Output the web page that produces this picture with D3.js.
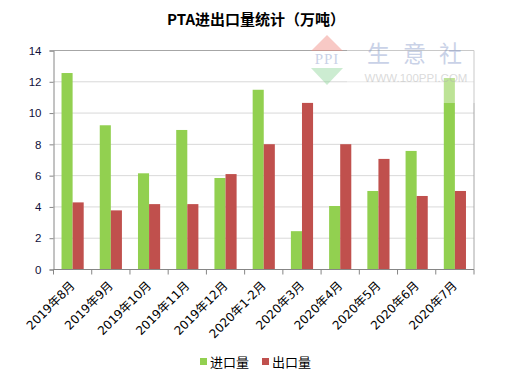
<!DOCTYPE html>
<html>
<head>
<meta charset="utf-8">
<script src="https://cdn.jsdelivr.net/npm/d3@7"></script>
<style>
  body { margin: 0; background: #fff; }
  svg { display: block; font-family: "DejaVu Sans", "Noto Sans CJK SC", sans-serif; }
</style>
</head>
<body>
<script>
const categories = ["2019年8月", "2019年9月", "2019年10月", "2019年11月", "2019年12月",
  "2020年1-2月", "2020年3月", "2020年4月", "2020年5月", "2020年6月", "2020年7月"];
const seriesNames = ["进口量", "出口量"];
const importValues = [12.56, 9.22, 6.15, 8.92, 5.85, 11.49, 2.45, 4.06, 5.02, 7.58, 12.24];
const exportValues = [4.29, 3.78, 4.18, 4.18, 6.1, 8.01, 10.65, 8.01, 7.07, 4.7, 5.02];
const yTicks = [0, 2, 4, 6, 8, 10, 12, 14];

const width = 507;
const height = 381;
const margin = { top: 50.5, right: 33, bottom: 111.5, left: 53.5 };
const colors = ["#92d050", "#c0504d"];

const svg = d3.select("body").append("svg")
  .attr("width", width)
  .attr("height", height);

const plotW = width - margin.left - margin.right;
const plotH = height - margin.top - margin.bottom;

const x = d3.scaleBand()
  .domain(categories)
  .range([0, plotW])
  .paddingInner(0.42)
  .paddingOuter(0.21);

const xSub = d3.scaleBand()
  .domain(seriesNames)
  .range([0, x.bandwidth()]);

const y = d3.scaleLinear()
  .domain([0, 14])
  .range([plotH, 0]);

// title
svg.append("text")
  .attr("x", 256)
  .attr("y", 25)
  .attr("text-anchor", "middle")
  .style("font-family", "'Noto Sans CJK SC', sans-serif")
  .style("font-weight", "bold")
  .style("font-size", "15px")
  .text("PTA进出口量统计（万吨）");

const g = svg.append("g")
  .attr("transform", `translate(${margin.left},${margin.top})`);

// grid lines
g.selectAll(".grid")
  .data(yTicks.filter(d => d > 0))
  .enter().append("line")
  .attr("x1", 0).attr("x2", plotW)
  .attr("y1", d => y(d)).attr("y2", d => y(d))
  .attr("stroke", d => d === 14 ? "#a6a6a6" : "#d9d9d9")
  .attr("stroke-width", 1);

// right border
g.append("line")
  .attr("x1", plotW).attr("x2", plotW)
  .attr("y1", 0).attr("y2", plotH)
  .attr("stroke", "#a6a6a6");

// bars
const data = categories.map((c, i) => ({ cat: c, vals: [importValues[i], exportValues[i]] }));

const groups = g.selectAll(".grp")
  .data(data)
  .enter().append("g")
  .attr("transform", d => `translate(${x(d.cat)},0)`);

groups.selectAll("rect")
  .data(d => d.vals.map((v, j) => ({ name: seriesNames[j], value: v, j: j })))
  .enter().append("rect")
  .attr("x", d => xSub(d.name))
  .attr("width", xSub.bandwidth())
  .attr("y", d => y(d.value))
  .attr("height", d => plotH - y(d.value))
  .attr("fill", d => colors[d.j]);

// y axis
const yAxis = g.append("g")
  .call(d3.axisLeft(y).tickValues(yTicks).tickSize(4).tickPadding(8).tickFormat(d3.format("d")));
yAxis.select(".domain").attr("stroke", "#868686");
yAxis.selectAll(".tick line").attr("stroke", "#868686");
yAxis.selectAll("text")
  .style("font-size", "11.5px")
  .attr("fill", "#10103a");

// x axis
const xTickPos = d3.range(categories.length + 1).map(i => i * plotW / categories.length);
const xAxisG = g.append("g").attr("transform", `translate(0,${plotH})`);
xAxisG.append("line")
  .attr("x1", 0).attr("x2", plotW)
  .attr("stroke", "#868686");
xAxisG.selectAll(".xt")
  .data(xTickPos)
  .enter().append("line")
  .attr("x1", d => d).attr("x2", d => d)
  .attr("y1", 0).attr("y2", 5)
  .attr("stroke", "#868686");
xAxisG.selectAll(".xl")
  .data(categories)
  .enter().append("text")
  .attr("transform", d => `translate(${x(d) + x.bandwidth() / 2},${14}) rotate(-45)`)
  .attr("text-anchor", "end")
  .attr("dy", "0.35em")
  .style("font-size", "12px")
  .attr("fill", "#000")
  .text(d => d);

// watermark
svg.append("rect")
  .attr("x", 347).attr("y", 36)
  .attr("width", 135).attr("height", 67)
  .attr("fill", "#fff")
  .attr("opacity", 0.4);
const wm = svg.append("g").attr("opacity", 0.45);
wm.append("path")
  .attr("d", "M311,51 L327,35 L343,51 Z")
  .attr("fill", "#f08a80");
wm.append("text")
  .attr("x", 327).attr("y", 64)
  .attr("text-anchor", "middle")
  .style("font-family", "'Liberation Serif', serif")
  .style("font-size", "15px")
  .style("letter-spacing", "1px")
  .attr("fill", "#8a9ccc")
  .text("PPI");
wm.append("path")
  .attr("d", "M311,68 L343,68 L327,85 Z")
  .attr("fill", "#8fd69a");
wm.append("text")
  .attr("x", 367).attr("y", 62)
  .style("font-family", "'Noto Sans CJK SC', sans-serif")
  .style("font-size", "23px")
  .style("letter-spacing", "13px")
  .attr("fill", "#8a9ccc")
  .text("生意社");
wm.append("text")
  .attr("x", 416).attr("y", 82)
  .attr("text-anchor", "middle")
  .style("font-family", "'Liberation Sans', sans-serif")
  .style("font-size", "11.5px")
  .attr("fill", "#b0b0b0")
  .text("WWW.100PPI.COM");

// legend
const legend = svg.append("g").attr("transform", "translate(200,358)");
const li = legend.selectAll(".li")
  .data(seriesNames)
  .enter().append("g")
  .attr("transform", (d, i) => `translate(${i * 62},0)`);
li.append("rect")
  .attr("width", 7).attr("height", 7)
  .attr("fill", (d, i) => colors[i]);
li.append("text")
  .attr("x", 10).attr("y", 4)
  .attr("dy", "0.35em")
  .style("font-family", "'Noto Sans CJK SC', sans-serif")
  .style("font-size", "13px")
  .text(d => d);
</script>
</body>
</html>
